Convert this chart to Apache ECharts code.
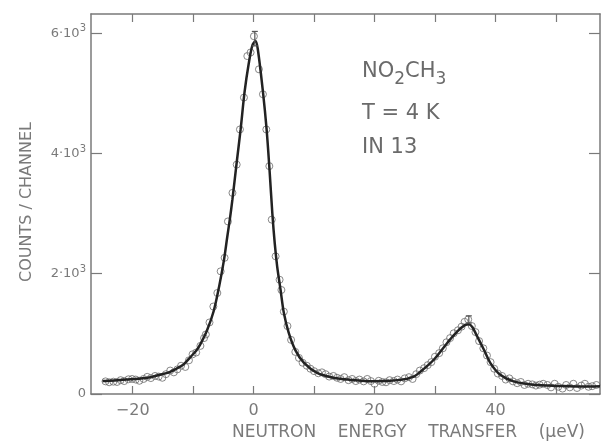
<!DOCTYPE html>
<html>
<head>
<meta charset="utf-8">
<script src="https://cdn.jsdelivr.net/npm/echarts@6/dist/echarts.min.js"></script>
<style>
  html, body { margin: 0; padding: 0; background: #fff; }
  #main { width: 601px; height: 445px; }
</style>
</head>
<body>
<div id="main"></div>
<script>
// fitted curve: [energy (µeV), counts]
var fitLine = [
  [-25.0, 215], [-23.0, 225], [-21.0, 240], [-19.0, 255], [-17.0, 280], [-15.5, 320],
  [-14.0, 360], [-12.6, 430], [-11.5, 500], [-10.4, 620], [-9.5, 720], [-8.8, 830],
  [-7.7, 1060], [-6.6, 1380], [-5.7, 1790], [-4.9, 2230], [-4.35, 2620], [-3.9, 2930],
  [-3.5, 3240], [-2.8, 3850], [-2.15, 4400], [-1.5, 5020], [-0.8, 5500], [-0.2, 5800],
  [0.3, 5870], [0.7, 5730], [1.55, 5020], [2.15, 4400], [2.65, 3700], [3.1, 3000],
  [3.5, 2500], [3.9, 2120], [4.46, 1730], [5.0, 1350], [5.8, 1020], [6.9, 730],
  [8.3, 520], [10.5, 350], [13.2, 270], [16.0, 235], [19.8, 210], [24.3, 235],
  [26.5, 290], [27.6, 370], [29.8, 570], [32.0, 845], [33.7, 1040], [35.0, 1150],
  [35.6, 1160], [36.2, 1110], [37.0, 955], [38.1, 735], [39.2, 510], [40.8, 320],
  [43.0, 210], [46.3, 155], [50.7, 135], [54.0, 125], [57.3, 130]
];

// measured channels (open circles)
var points = [
  [-24.5, 210], [-23.9, 195], [-23.2, 205], [-22.6, 200], [-22.0, 230], [-21.4, 215],
  [-20.7, 245], [-20.1, 250], [-19.5, 240], [-18.9, 220], [-18.2, 250], [-17.6, 285],
  [-17.0, 265], [-16.3, 300], [-15.7, 290], [-15.1, 270], [-14.5, 330], [-13.8, 390],
  [-13.2, 360], [-12.6, 410], [-12.0, 470], [-11.3, 450], [-10.7, 560], [-10.1, 660],
  [-9.5, 690], [-8.8, 800], [-8.2, 930], [-7.9, 990], [-7.3, 1190], [-6.66, 1455],
  [-6.0, 1680], [-5.45, 2040], [-4.8, 2265], [-4.25, 2870], [-3.5, 3345], [-2.8, 3815],
  [-2.26, 4400], [-1.6, 4930], [-1.04, 5620], [-0.5, 5680], [0.05, 5950], [0.88, 5400],
  [1.54, 4985], [2.1, 4400], [2.6, 3790], [3.0, 2900], [3.64, 2290], [4.3, 1900],
  [4.6, 1730], [5.0, 1370], [5.6, 1130], [6.2, 900], [6.9, 700], [7.5, 600],
  [8.1, 520], [8.8, 470], [9.4, 420], [10.0, 380], [10.7, 345], [11.3, 360],
  [11.9, 330], [12.5, 290], [13.2, 300], [13.8, 270], [14.4, 250], [15.0, 280],
  [15.7, 230], [16.3, 250], [16.9, 215], [17.5, 240], [18.2, 210], [18.8, 250],
  [19.4, 215], [20.0, 170], [20.7, 220], [21.3, 200], [21.9, 195], [22.5, 230],
  [23.2, 215], [23.8, 240], [24.4, 210], [25.0, 260], [25.7, 280], [26.3, 250],
  [26.9, 330], [27.5, 390], [28.2, 430], [28.8, 480], [29.4, 530], [30.0, 620],
  [30.7, 680], [31.3, 760], [31.9, 860], [32.5, 930], [33.1, 1010], [33.8, 1060],
  [34.4, 1120], [34.9, 1200], [35.5, 1240], [36.1, 1130], [36.7, 1030], [37.3, 880],
  [38.0, 760], [38.6, 640], [39.2, 530], [39.8, 420], [40.4, 340], [41.1, 300],
  [41.7, 240], [42.3, 260], [42.9, 210], [43.6, 180], [44.2, 200], [44.8, 150],
  [45.4, 170], [46.1, 160], [46.7, 140], [47.3, 155], [47.9, 170], [48.6, 150],
  [49.2, 110], [49.8, 170], [50.4, 120], [51.1, 90], [51.7, 150], [52.3, 110],
  [52.9, 170], [53.5, 100], [54.2, 140], [54.8, 170], [55.4, 120], [56.0, 130],
  [56.7, 150]
];

// error bars: [energy, low, high]
var errorBars = [[0.2, 5790, 6030], [35.6, 1180, 1300]];

var xTicks = [-20, -10, 0, 10, 20, 30, 40, 50];
var xLabels = [-20, 0, 20, 40];
var yTicks = [0, 2000, 4000, 6000];

var grey = '#7a7a7a';
var font = 'DejaVu Sans';

var myChart = echarts.init(document.getElementById('main'));

function xAxisDef(pos, labels) {
  return {
    type: 'value', position: pos, min: -26.9, max: 57.3,
    axisLine: { show: true, onZero: false, lineStyle: { color: grey, width: 1.5 } },
    axisTick: { show: true, inside: true, length: 8, customValues: xTicks, lineStyle: { color: grey, width: 1.2 } },
    axisLabel: {
      show: labels, customValues: xLabels, margin: 9,
      color: grey, fontFamily: font, fontSize: 16,
      formatter: function (v) { return v < 0 ? '\u2212' + (-v) : String(v); }
    },
    splitLine: { show: false }
  };
}

function yAxisDef(pos, labels) {
  return {
    type: 'value', position: pos, min: 0, max: 6320, interval: 2000,
    axisLine: { show: true, onZero: false, lineStyle: { color: grey, width: 1.5 } },
    axisTick: { show: true, inside: true, length: 11, customValues: yTicks, lineStyle: { color: grey, width: 1.2 } },
    axisLabel: {
      show: labels, customValues: yTicks, margin: 5,
      color: grey, fontFamily: font, fontSize: 13,
      formatter: function (v) { return v === 0 ? '0' : (v / 1000) + '\u00b710{s|3}'; },
      rich: { s: { fontSize: 10, color: grey, fontFamily: font, verticalAlign: 'top', padding: [0, 0, 9, 0] } }
    },
    splitLine: { show: false }
  };
}

var option = {
  animation: false,
  grid: { left: 91, right: 1, top: 14, bottom: 51 },
  xAxis: [xAxisDef('bottom', true), xAxisDef('top', false)],
  yAxis: [yAxisDef('left', true), yAxisDef('right', false)],
  graphic: [
    {
      type: 'text', left: 232, top: 424,
      style: { text: 'NEUTRON    ENERGY    TRANSFER    (\u03bceV)', fill: grey, font: '17px "DejaVu Sans"' }
    },
    {
      type: 'text', x: 27, y: 202, rotation: Math.PI / 2,
      style: { text: 'COUNTS / CHANNEL', fill: grey, font: '16px "DejaVu Sans"', align: 'center', verticalAlign: 'middle' }
    },
    {
      type: 'text', left: 362, top: 61,
      style: {
        text: 'NO{b|2}CH{b|3}', fill: '#6a6a6a', font: '21px "DejaVu Sans"',
        rich: { b: { fontSize: 17, fill: '#6a6a6a', fontFamily: font, verticalAlign: 'bottom', padding: [16, 0, 0, 0] } }
      }
    },
    {
      type: 'text', left: 362, top: 103,
      style: { text: 'T = 4 K', fill: '#6a6a6a', font: '21px "DejaVu Sans"' }
    },
    {
      type: 'text', left: 362, top: 137,
      style: { text: 'IN 13', fill: '#6a6a6a', font: '21px "DejaVu Sans"' }
    }
  ],
  series: [
    {
      name: 'data', type: 'scatter', data: points,
      symbol: 'circle', symbolSize: 7,
      itemStyle: { color: 'rgba(0,0,0,0)', borderColor: '#6a6a6a', borderWidth: 1 },
      z: 2
    },
    {
      name: 'fit', type: 'line', data: fitLine,
      showSymbol: false, smooth: 0.3,
      lineStyle: { color: '#222', width: 2.5 },
      z: 3
    },
    {
      name: 'error', type: 'custom', data: errorBars,
      renderItem: function (params, api) {
        var lo = api.coord([api.value(0), api.value(1)]);
        var hi = api.coord([api.value(0), api.value(2)]);
        var st = { stroke: '#555', lineWidth: 1.2 };
        return {
          type: 'group',
          children: [
            { type: 'line', shape: { x1: lo[0], y1: lo[1], x2: hi[0], y2: hi[1] }, style: st },
            { type: 'line', shape: { x1: hi[0] - 3, y1: hi[1], x2: hi[0] + 3, y2: hi[1] }, style: st },
            { type: 'line', shape: { x1: lo[0] - 3, y1: lo[1], x2: lo[0] + 3, y2: lo[1] }, style: st }
          ]
        };
      },
      z: 4
    }
  ]
};
myChart.setOption(option);
</script>
</body>
</html>
